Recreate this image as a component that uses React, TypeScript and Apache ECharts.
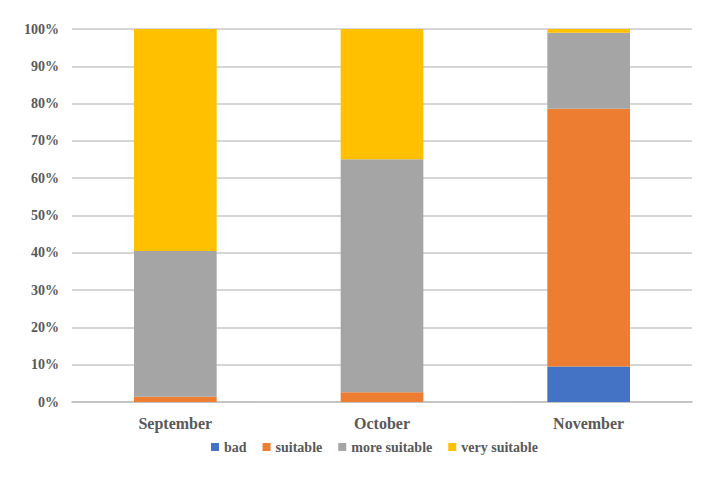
import React, { useEffect, useRef } from "react";
import * as echarts from "echarts";

const categories = ["September", "October", "November"];
const seriesNames = ["bad", "suitable", "more suitable", "very suitable"];
const bad = [0, 0, 9.5];
const suitable = [1.4, 2.6, 69.1];
const moreSuitable = [39.1, 62.5, 20.4];
const verySuitable = [59.5, 34.9, 1.0];
const colors = ["#4472C4", "#ED7D31", "#A5A5A5", "#FFC000"];

const FONT = "Liberation Serif";

export default function App() {
  const ref = useRef<HTMLDivElement>(null);
  useEffect(() => {
    if (!ref.current) return;
    const chart = echarts.init(ref.current, null, { renderer: "svg" });
    const dataSets = [bad, suitable, moreSuitable, verySuitable];
    chart.setOption({
      animation: false,
      textStyle: { fontFamily: FONT, fontWeight: "bold" },
      grid: { left: 64, right: 21, top: 21, bottom: 75 },
      legend: {
        top: 427,
        left: 198,
        itemWidth: 8,
        itemHeight: 8,
        itemGap: 16,
        icon: "rect",
        data: seriesNames,
        textStyle: {
          fontFamily: FONT,
          fontWeight: "bold",
          fontSize: 14,
          color: "#595959",
        },
      },
      xAxis: {
        type: "category",
        data: categories,
        axisTick: { show: false },
        axisLine: { lineStyle: { color: "#BFBFBF", width: 1.5 } },
        axisLabel: {
          fontFamily: FONT,
          fontWeight: "bold",
          fontSize: 16,
          color: "#595959",
          margin: 13,
        },
      },
      yAxis: {
        type: "value",
        min: 0,
        max: 100,
        interval: 10,
        axisLabel: {
          formatter: "{value}%",
          fontFamily: FONT,
          fontWeight: "bold",
          fontSize: 14,
          color: "#595959",
          margin: 13,
        },
        splitLine: { lineStyle: { color: "#C8C8C8", width: 1.5 } },
        axisLine: { show: false },
        axisTick: { show: false },
      },
      series: seriesNames.map((name, i) => ({
        name,
        type: "bar",
        stack: "total",
        barWidth: "40%",
        data: dataSets[i],
        itemStyle: { color: colors[i] },
      })),
    });
    return () => chart.dispose();
  }, []);
  return <div ref={ref} style={{ width: 705, height: 469 }} />;
}
